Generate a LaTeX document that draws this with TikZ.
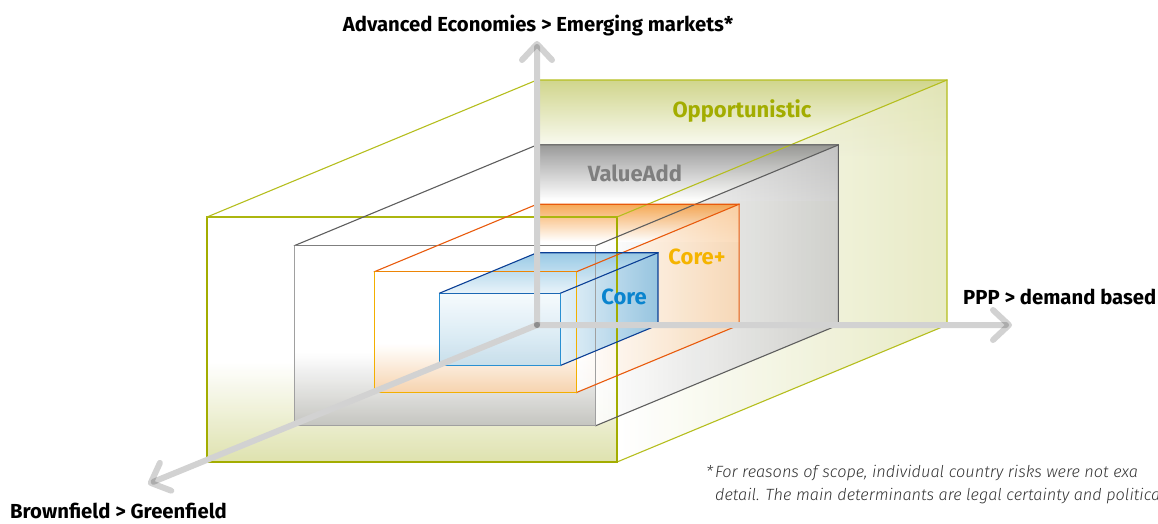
\documentclass[tikz,border=0pt]{standalone}
\usepackage{fontspec}
\setmainfont{Fira Sans}
\newfontfamily\notefont{Fira Sans Light Italic}
\usetikzlibrary{arrows.meta}

\definecolor{oppline}{HTML}{A3AD00}
\definecolor{oppback}{HTML}{B5BE1E}
\definecolor{oppfill}{HTML}{C8CE78}
\definecolor{valline}{HTML}{A0A0A0}
\definecolor{valback}{HTML}{5E5E5E}
\definecolor{valfill}{HTML}{8A8A8A}
\definecolor{valtext}{HTML}{7F7F7F}
\definecolor{cpline}{HTML}{F3AF00}
\definecolor{cpback}{HTML}{E85A0C}
\definecolor{cpfill}{HTML}{F59A3A}
\definecolor{cptext}{HTML}{F5B400}
\definecolor{coreline}{HTML}{2A90D2}
\definecolor{coreback}{HTML}{0B3F95}
\definecolor{coretext}{HTML}{0A84CE}
\definecolor{coretop}{HTML}{8EC4E3}
\definecolor{corelid}{HTML}{E6F2F9}
\definecolor{corewall}{HTML}{8CC1E1}
\definecolor{corepale}{HTML}{E2F0F8}
\definecolor{corefront}{HTML}{F5FAFD}
\definecolor{coremid}{HTML}{D2E8F4}
\definecolor{corefloor}{HTML}{C3DEEC}
\definecolor{axisgray}{HTML}{D2D2D2}

% shaded ceiling, side wall and floor of a box of size #1
\newcommand\riskback[4]{%
  \begin{scope}[scale=#1, fill opacity=.85]
    \shade[top color=#2, bottom color=white] (0,245) rectangle (410,170);
    \shade[left color=white, right color=#2!#3] (80,-137) -- (410,0) -- (410,245) -- (80,108) -- cycle;
    \shade[top color=white, bottom color=#2!#4] (-330,-137) rectangle (80,-37);
  \end{scope}}

% visible edges of a box of size #1
\newcommand\riskedges[3]{%
  \begin{scope}[scale=#1]
    \draw[edge, #3] (-330,108) -- (0,245) -- (410,245) -- (410,0) -- (80,-137);
    \draw[edge, #3] (80,108) -- (410,245);
    \draw[edge, #2] (-330,108) -- (-330,-137) -- (80,-137) -- (80,108);
    \draw[edge, #2!50!#3] (-330,108) -- (80,108);
  \end{scope}}

\begin{document}
\begin{tikzpicture}[x=1pt, y=1pt,
    edge/.style={line width=1.1pt, line join=miter, line cap=rect},
    axis/.style={line width=6pt, draw=axisgray, line cap=round,
      -{Straight Barb[length=16pt, width=30pt, round]}},
    boxlabel/.style={anchor=base, font=\fontsize{22}{22}\selectfont\bfseries},
    axislabel/.style={inner sep=0pt, font=\fontsize{20.3}{22}\selectfont\bfseries},
    note/.style={anchor=base west, inner sep=0pt, text=black!80,
      font=\notefont\fontsize{16.3}{18}\selectfont}]
  \useasboundingbox (-537,-198) rectangle (621,325);

  \riskback{1}{oppfill}{50}{70}
  \riskback{.735}{valfill}{45}{55}
  \riskback{.493}{cpfill}{40}{45}
  \begin{scope}[scale=.295, fill opacity=.9]
    \shade[top color=coretop, bottom color=corelid]
      (-330,108) -- (80,108) -- (410,245) -- (0,245) -- cycle;
    \shade[left color=corepale, right color=corewall]
      (80,-137) -- (410,0) -- (410,245) -- (80,108) -- cycle;
    \shade[top color=corefront, middle color=coremid, bottom color=corefloor]
      (-330,-137) rectangle (80,108);
  \end{scope}

  \riskedges{1}{oppline}{oppback}
  \riskedges{.735}{valline}{valback}
  \riskedges{.493}{cpline}{cpback}
  \riskedges{.295}{coreline}{coreback}

  \coordinate (O) at (0,0);
  \coordinate (A0) at (0,284);
  \coordinate (A1) at (475,0);
  \coordinate (A2) at (-389,-159);
  \begin{scope}[blend group=multiply]
    \path (O) edge [axis] (A0);
    \path (O) edge [axis] (A1);
    \path (O) edge [axis] (A2);
  \end{scope}

  \node[axislabel, anchor=base] (L0) at (1,294) {Advanced Economies > Emerging markets*};
  \node[axislabel, anchor=base west] (L1) at (426,21) {PPP > demand based};
  \node[axislabel, anchor=base west] (L2) at (-527,-193) {Brownfield > Greenfield};

  \node[boxlabel, text=oppline] (B0) at (205,208) {Opportunistic};
  \node[boxlabel, text=valtext] (B1) at (98,144) {ValueAdd};
  \node[boxlabel, text=cptext] (B2) at (160,61) {Core+};
  \node[boxlabel, text=coretext] (B3) at (87,21) {Core};

  \node[note] (N0) at (169,-152) {*};
  \node[note] (N1) at (178,-152) {For reasons of scope, individual country risks were not exa};
  \node[note] (N2) at (178,-175) {detail. The main determinants are legal certainty and politica};
\end{tikzpicture}
\end{document}
